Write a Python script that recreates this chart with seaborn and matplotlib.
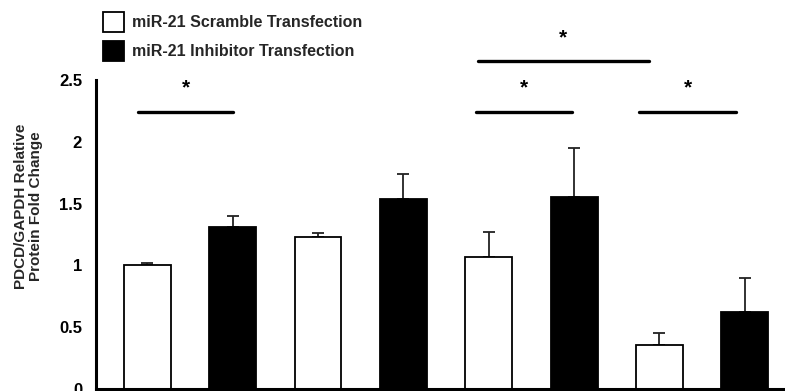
import matplotlib
matplotlib.use("Agg")
import matplotlib.pyplot as plt
import seaborn as sns
import pandas as pd
import numpy as np
from matplotlib.patches import Patch

sns.set_style("white")
plt.rcParams['font.family'] = ['Liberation Sans', 'DejaVu Sans']

# Data
bar_ids = ["A1", "A2", "B1", "B2", "C1", "C2", "D1", "D2"]
treatments = ["miR-21 Scramble Transfection", "miR-21 Inhibitor Transfection"] * 4
values = [1.00, 1.31, 1.23, 1.54, 1.07, 1.55, 0.36, 0.62]
errors = [0.02, 0.09, 0.03, 0.20, 0.20, 0.40, 0.095, 0.28]
ytick_vals = [0, 0.5, 1, 1.5, 2, 2.5]
ytick_labels = ["0", "0.5", "1", "1.5", "2", "2.5"]
# significance brackets: (x start, x end, y line, y star)
sig_x0 = [-0.11, 3.85, 5.76, 3.87]
sig_x1 = [1.01, 4.98, 6.90, 5.88]
sig_y = [2.24, 2.24, 2.24, 2.656]
star_y = [2.44, 2.44, 2.44, 2.84]

df = pd.DataFrame({"bar": bar_ids, "treatment": treatments, "value": values})

W, H = 785, 391
fig = plt.figure(figsize=(W / 100, H / 100), dpi=100)
ax = fig.add_axes([96 / W, 1 - 389 / H, 1 - 96 / W, 389 / H])

palette = {"miR-21 Scramble Transfection": "white",
           "miR-21 Inhibitor Transfection": "black"}
sns.barplot(data=df, x="bar", y="value", hue="treatment", dodge=False,
            palette=palette, edgecolor="black", linewidth=1.3, width=0.55,
            legend=False, ax=ax, errorbar=None)

xpos = np.arange(len(values))
ax.errorbar(xpos, values, yerr=[np.zeros(len(errors)), errors], fmt="none",
            ecolor="#222222", elinewidth=1.3, capsize=4, capthick=1.3, zorder=1)
for b in ax.patches:
    b.set_zorder(2)

for x0, x1, y in zip(sig_x0, sig_x1, sig_y):
    ax.plot([x0, x1], [y, y], color="black", lw=2.4, solid_capstyle="round")
for x0, x1, ys in zip(sig_x0, sig_x1, star_y):
    ax.text((x0 + x1) / 2, ys, "*", ha="center", va="center", fontsize=15,
            fontweight="bold", color="black")

ax.set_xlim(-0.6, 7.47)
ax.set_ylim(0, 389 / 123.6)
ax.set_yticks(ytick_vals)
ax.set_yticklabels(ytick_labels, fontweight="bold", fontsize=12)
ax.set_xticks([])
ax.set_xlabel("")
ax.set_ylabel("")
for s in ["top", "right"]:
    ax.spines[s].set_visible(False)
ax.spines["left"].set_linewidth(2.2)
ax.spines["bottom"].set_linewidth(2.2)
ax.spines["left"].set_color("black")
ax.spines["bottom"].set_color("black")
ax.spines["left"].set_bounds(0, 2.5)
ax.tick_params(axis="y", direction="out", length=4, width=2, pad=6, colors="black")

fig.text(28.5 / W, 1 - 206.5 / H, "PDCD/GAPDH Relative\nProtein Fold Change",
         rotation=90, ha="center", va="center", multialignment="center",
         fontweight="bold", fontsize=11, linespacing=1.15)

handles = [Patch(facecolor="white", edgecolor="black", linewidth=1.3),
           Patch(facecolor="black", edgecolor="black", linewidth=1.3)]
labels = ["miR-21 Scramble Transfection", "miR-21 Inhibitor Transfection"]
leg = fig.legend(handles, labels, loc="upper left",
                 bbox_to_anchor=(103 / W, 1 - 12 / H), frameon=False,
                 prop={"weight": "bold", "size": 11.5}, handlelength=1.3,
                 handleheight=1.55, handletextpad=0.5, labelspacing=0.56,
                 borderpad=0, borderaxespad=0)

fig.savefig("out.png", dpi=100)
